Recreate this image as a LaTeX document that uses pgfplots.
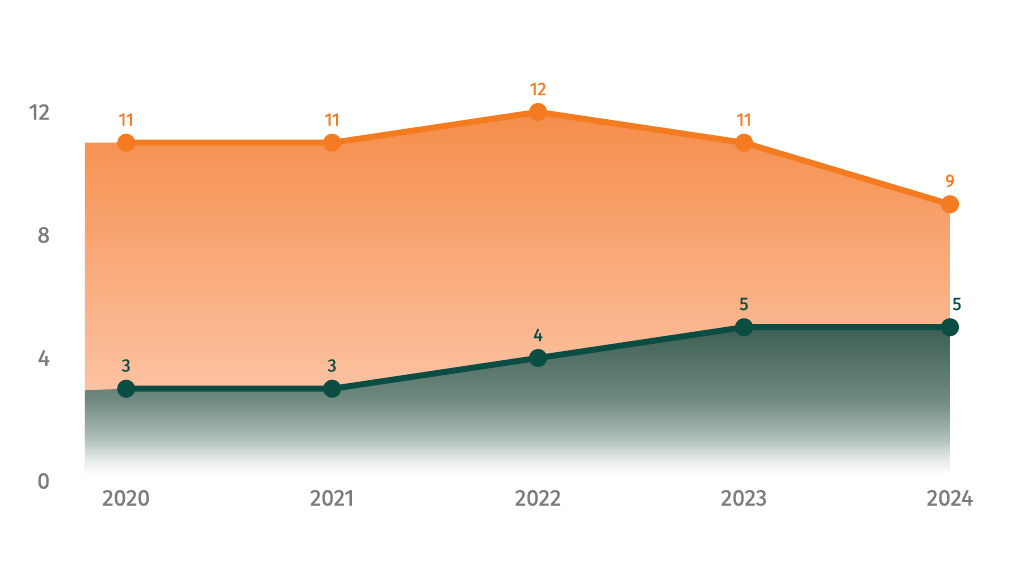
\documentclass[border=0pt]{standalone}
\usepackage{pgfplots}
\pgfplotsset{compat=1.18}
\usepackage{fontspec}
\setmainfont{Fira Sans}
\newfontfamily\medfont[FakeBold=0.8]{Fira Sans}
\definecolor{orln}{HTML}{F47B20}
\definecolor{grln}{HTML}{0B4D43}
\definecolor{ortop}{HTML}{F58D4A}
\definecolor{orbot}{HTML}{FFD3BE}
\definecolor{ticktxt}{HTML}{7A7A7A}
\pgfdeclareverticalshading{grfade}{100bp}{%
  color(0bp)=(white); color(27bp)=(white); color(32bp)=(rgb,255:red,230;green,236;blue,234);
  color(38.5bp)=(rgb,255:red,176;green,193;blue,186); color(51.5bp)=(rgb,255:red,111;green,138;blue,127);
  color(75bp)=(rgb,255:red,62;green,94;blue,84); color(100bp)=(rgb,255:red,62;green,94;blue,84)}

\begin{document}
\begin{tikzpicture}
\useasboundingbox (-42.5pt,-53.5pt) rectangle (469.5pt,240.5pt);
\begin{axis}[
  at={(0,0)}, anchor=south west,
  scale only axis, width=432.5pt, height=184.5pt,
  xmin=2019.8, xmax=2024, ymin=0, ymax=12,
  clip=false,
  axis line style={draw=none}, major tick length=0pt,
  xtick={2020,2021,2022,2023,2024}, ytick={0,4,8,12},
  /pgf/number format/assume math mode=true,
  xticklabel style={/pgf/number format/1000 sep={}, font=\medfont\fontsize{11.4}{13}\selectfont, text=ticktxt, yshift=-1pt},
  yticklabel style={font=\medfont\fontsize{11.4}{13}\selectfont, text=ticktxt, xshift=-14pt},
  nodes near coords,
  every node near coord/.append style={font=\medfont\fontsize{9}{10}\selectfont, inner sep=0pt, yshift=7pt},
]
% shaded areas
\addplot[draw=none, top color=ortop, bottom color=orbot, nodes near coords={}] coordinates
  {(2019.8,11) (2020,11) (2021,11) (2022,12) (2023,11) (2024,9)} \closedcycle;
\addplot[draw=none, shading=grfade, nodes near coords={}] coordinates
  {(2019.8,2.95) (2020,3) (2021,3) (2022,4) (2023,5) (2024,5)} \closedcycle;
% lines
\addplot[orln, line width=3pt, mark=*, mark size=3pt, every node near coord/.append style={text=orln}] coordinates
  {(2020,11) (2021,11) (2022,12) (2023,11) (2024,9)};
\addplot[grln, line width=3pt, mark=*, mark size=3pt,
  every node near coord/.append style={text=grln},
  coordinate style/.condition={x==2024}{xshift=3.5pt}] coordinates
  {(2020,3) (2021,3) (2022,4) (2023,5) (2024,5)};
\end{axis}
\end{tikzpicture}
\end{document}
